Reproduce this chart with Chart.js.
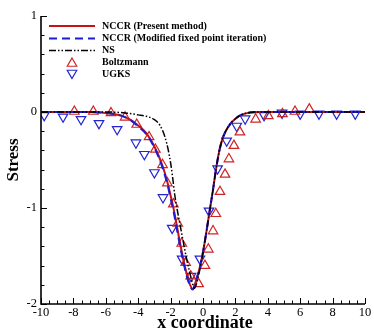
<!DOCTYPE html>
<html>
<head>
<meta charset="utf-8">
<script src="https://cdn.jsdelivr.net/npm/chart.js@4/dist/chart.umd.min.js"></script>
<style>
  html,body{margin:0;padding:0;background:#fff;}
  canvas{display:block;}
</style>
</head>
<body>
<canvas id="stressChart" width="374" height="332"></canvas>
<script>
// ----- DATA -----
const nccrX = [-10,-8,-7,-6,-5.5,-5,-4.5,-4,-3.5,-3,-2.5,-2.2,-2,-1.8,-1.6,-1.4,-1.2,-1,-0.8,-0.64,-0.4,-0.2,0,0.2,0.4,0.6,0.8,1,1.2,1.4,1.7,2,2.3,2.9,3.5,5,10];
const nccrY = [0,0,0,-0.01,-0.02,-0.04,-0.08,-0.14,-0.22,-0.36,-0.56,-0.73,-0.87,-1.02,-1.2,-1.38,-1.55,-1.69,-1.8,-1.845,-1.74,-1.62,-1.46,-1.26,-1.04,-0.83,-0.6,-0.41,-0.28,-0.2,-0.12,-0.07,-0.035,-0.005,0,0,0];

const fixedX = [-10,-8,-7,-6,-5.5,-5,-4.5,-4,-3.5,-3,-2.5,-2.2,-2,-1.8,-1.6,-1.4,-1.2,-1,-0.8,-0.64,-0.4,-0.2,0,0.2,0.4,0.6,0.8,1,1.2,1.4,1.7,2,2.3,2.9,3.5,5,10];
const fixedY = [0,0,0,-0.01,-0.02,-0.04,-0.08,-0.15,-0.23,-0.37,-0.58,-0.75,-0.9,-1.05,-1.23,-1.41,-1.57,-1.71,-1.81,-1.85,-1.74,-1.62,-1.46,-1.26,-1.04,-0.83,-0.6,-0.41,-0.28,-0.2,-0.12,-0.07,-0.035,-0.005,0,0,0];

const nsX = [-10,-6,-4.8,-4,-3.5,-3,-2.65,-2.35,-2.14,-1.99,-1.89,-1.73,-1.5,-1.31,-1,-0.7,-0.53,-0.3,-0.08,0.2,0.4,0.6,0.8,1,1.2,1.4,1.7,2,2.3,2.9,3.5,5,10];
const nsY = [0,0,-0.01,-0.03,-0.045,-0.08,-0.14,-0.26,-0.4,-0.54,-0.66,-0.88,-1.1,-1.27,-1.54,-1.75,-1.835,-1.72,-1.54,-1.26,-1.04,-0.83,-0.6,-0.41,-0.28,-0.2,-0.12,-0.07,-0.035,-0.005,0,0,0];

const boltzX = [-7.94,-6.77,-5.68,-4.81,-4.09,-3.33,-2.94,-2.5,-2.2,-1.83,-1.56,-1.31,-1.07,-0.76,-0.27,0.12,0.33,0.62,0.79,1.05,1.36,1.6,1.91,2.28,3.25,4.03,4.9,5.68,6.56];
const boltzY = [0.005,0.005,-0.01,-0.055,-0.13,-0.26,-0.39,-0.55,-0.74,-0.96,-1.16,-1.37,-1.57,-1.71,-1.79,-1.6,-1.43,-1.24,-1.06,-0.83,-0.65,-0.49,-0.35,-0.21,-0.076,-0.04,-0.02,0.005,0.03];

const ugksX = [-9.8,-8.64,-7.53,-6.42,-5.3,-4.14,-3.62,-3.0,-2.47,-1.9,-1.29,-0.74,-0.19,0.37,0.9,1.46,2.08,2.6,3.77,4.88,6.0,7.16,8.25,9.4];
const ugksY = [-0.035,-0.05,-0.076,-0.118,-0.18,-0.32,-0.44,-0.63,-0.89,-1.21,-1.53,-1.71,-1.53,-1.03,-0.59,-0.3,-0.146,-0.07,-0.035,-0.01,-0.02,-0.02,-0.02,-0.02];

const xTicks = [-10,-8,-6,-4,-2,0,2,4,6,8,10];
const yTicks = [-2,-1,0,1];
const labels = ['NCCR (Present method)','NCCR (Modified fixed point iteration)','NS','Boltzmann','UGKS'];

const RED = '#c41414';
const BLUE = '#1c1cd6';
const SERIF = '"Liberation Serif", "Times New Roman", serif';

function pts(xs, ys){ return xs.map((x,i)=>({x:x, y:ys[i]})); }

// ----- DRAW HELPERS -----
function triangle(ctx, x, y, r, down){
  const s = down ? -1 : 1;
  ctx.beginPath();
  ctx.moveTo(x, y - s*r);
  ctx.lineTo(x + r*0.866, y + s*r*0.5);
  ctx.lineTo(x - r*0.866, y + s*r*0.5);
  ctx.closePath();
  ctx.stroke();
}

// ----- AXES, TITLES, LEGEND -----
const decor = {
  id:'decor',
  beforeDraw(chart){
    const ctx = chart.ctx;
    ctx.save();
    ctx.fillStyle = '#fff';
    ctx.fillRect(0,0,chart.width,chart.height);
    ctx.restore();
  },
  afterDraw(chart){
    const ctx = chart.ctx, xs = chart.scales.x, ys = chart.scales.y, a = chart.chartArea;
    ctx.save();
    ctx.strokeStyle = '#000';
    ctx.lineWidth = 1.6;
    ctx.beginPath();
    ctx.moveTo(a.left, a.top); ctx.lineTo(a.left, a.bottom); ctx.lineTo(a.right, a.bottom);
    ctx.stroke();

    ctx.lineWidth = 1;
    for(let i=0;i<=40;i++){
      const v = -10 + i*0.5;
      const px = Math.round(xs.getPixelForValue(v)) + 0.5;
      const len = (i%4===0) ? 6 : 3.5;
      ctx.beginPath(); ctx.moveTo(px, a.bottom); ctx.lineTo(px, a.bottom-len); ctx.stroke();
    }
    for(let i=0;i<=15;i++){
      const v = -2 + i*0.2;
      const py = Math.round(ys.getPixelForValue(v)) + 0.5;
      const len = (i%5===0) ? 6 : 3.5;
      ctx.beginPath(); ctx.moveTo(a.left, py); ctx.lineTo(a.left+len, py); ctx.stroke();
    }

    // axis titles
    ctx.fillStyle = '#000';
    ctx.font = 'bold 18px ' + SERIF;
    ctx.textAlign = 'center';
    ctx.textBaseline = 'middle';
    ctx.fillText('x coordinate', 205, 323);
    ctx.save();
    ctx.translate(14, 160);
    ctx.rotate(-Math.PI/2);
    ctx.font = 'bold 17px ' + SERIF;
    ctx.fillText('Stress', 0, 0);
    ctx.restore();

    // legend
    const rows = [26, 38.5, 50.5, 62.5, 74];
    const x0 = 49, x1 = 95, mx = 72, tx = 102;
    ctx.font = 'bold 10px ' + SERIF;
    ctx.textAlign = 'left';
    labels.forEach((lab,i)=>{
      const y = rows[i];
      const ds = chart.data.datasets[i];
      ctx.save();
      if(i<3){
        ctx.strokeStyle = ds.borderColor;
        ctx.lineWidth = ds.borderWidth;
        ctx.setLineDash(ds.borderDash || []);
        ctx.beginPath(); ctx.moveTo(x0,y); ctx.lineTo(x1,y); ctx.stroke();
      } else {
        ctx.strokeStyle = ds.pointBorderColor;
        ctx.lineWidth = ds.pointBorderWidth;
        triangle(ctx, mx, y + (i===3 ? 1 : -1), ds.pointRadius, i===4);
      }
      ctx.restore();
      ctx.fillText(lab, tx, y);
    });
    ctx.restore();
  }
};

// ----- CHART -----
const ctx = document.getElementById('stressChart').getContext('2d');
new Chart(ctx,{
  type:'scatter',
  data:{
    datasets:[
      {label:labels[0],data:pts(nccrX,nccrY),showLine:true,borderColor:RED,borderWidth:2,pointRadius:0,cubicInterpolationMode:'monotone',order:2},
      {label:labels[1],data:pts(fixedX,fixedY),showLine:true,borderColor:BLUE,borderWidth:2,borderDash:[8,5],pointRadius:0,cubicInterpolationMode:'monotone',order:1},
      {label:labels[2],data:pts(nsX,nsY),showLine:true,borderColor:'#000',borderWidth:1.5,borderDash:[7,2,1.5,2,1.5,2],pointRadius:0,cubicInterpolationMode:'monotone',order:0},
      {label:labels[3],data:pts(boltzX,boltzY),showLine:false,pointStyle:'triangle',pointRadius:5.5,pointBorderWidth:1.2,pointBorderColor:'#d02424',pointBackgroundColor:'rgba(0,0,0,0)',order:3},
      {label:labels[4],data:pts(ugksX,ugksY),showLine:false,pointStyle:'triangle',rotation:180,pointRadius:5.5,pointBorderWidth:1.2,pointBorderColor:'#2424d0',pointBackgroundColor:'rgba(0,0,0,0)',order:4}
    ]
  },
  options:{
    responsive:false,
    animation:false,
    devicePixelRatio:1,
    layout:{padding:{top:16,right:9,left:0,bottom:0}},
    plugins:{legend:{display:false},tooltip:{enabled:false}},
    scales:{
      x:{
        type:'linear',min:-10,max:10,
        afterBuildTicks:s=>{ s.ticks = xTicks.map(v=>({value:v})); },
        afterFit:s=>{ s.height = 28; },
        grid:{display:false,drawTicks:false},
        border:{display:false},
        ticks:{color:'#000',padding:1,maxRotation:0,autoSkip:false,font:{family:SERIF,size:12.5}}
      },
      y:{
        type:'linear',min:-2,max:1,
        afterBuildTicks:s=>{ s.ticks = yTicks.map(v=>({value:v})); },
        afterFit:s=>{ s.width = 41; },
        grid:{display:false,drawTicks:false},
        border:{display:false},
        ticks:{color:'#000',padding:4,autoSkip:false,font:{family:SERIF,size:12.5}}
      }
    }
  },
  plugins:[decor]
});
</script>
</body>
</html>
